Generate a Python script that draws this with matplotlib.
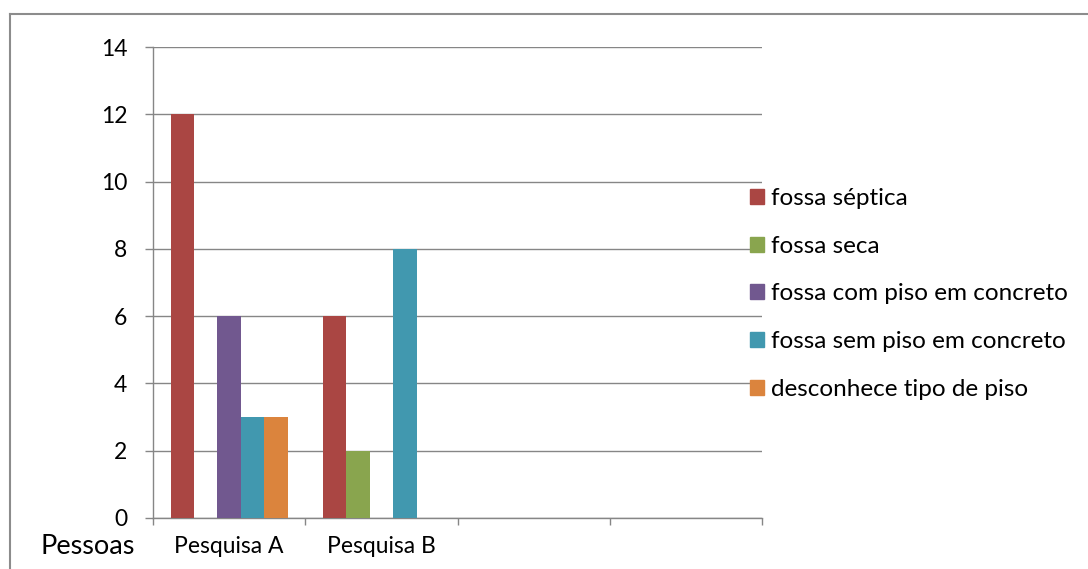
import matplotlib
matplotlib.use("Agg")
import matplotlib.pyplot as plt
from matplotlib.patches import Rectangle
import numpy as np

plt.rcParams['font.family'] = ['Lato', 'DejaVu Sans']

categories = ["Pesquisa A", "Pesquisa B", "", ""]
series_names = ["fossa séptica", "fossa seca", "fossa com piso em concreto",
                "fossa sem piso em concreto", "desconhece tipo de piso"]
fossa_septica = [12, 6, 0, 0]
fossa_seca = [0, 2, 0, 0]
fossa_com_piso = [6, 0, 0, 0]
fossa_sem_piso = [3, 8, 0, 0]
desconhece = [3, 0, 0, 0]
series_values = [fossa_septica, fossa_seca, fossa_com_piso, fossa_sem_piso, desconhece]
colors = ["#AA4643", "#89A54E", "#71588F", "#4198AF", "#DB843D"]
y_ticks = [0, 2, 4, 6, 8, 10, 12, 14]

W, H = 1088, 569
fig = plt.figure(figsize=(W / 100, H / 100), dpi=100)
ax = fig.add_axes([153 / W, (H - 518) / H, (762 - 153) / W, (518 - 47) / H])

grid_c = "#868686"
n = len(series_values)
bw = 1 / (n + 1.5)
x = np.arange(len(categories))
handles = []
for i, (vals, c, name) in enumerate(zip(series_values, colors, series_names)):
    v = np.array(vals, dtype=float)
    mask = v > 0
    ax.bar(x[mask] + (i - (n - 1) / 2) * bw, v[mask], width=bw, color=c,
           zorder=3, linewidth=0)
    handles.append(Rectangle((0, 0), 1, 1, color=c, label=name))

ax.set_xlim(-0.5, len(categories) - 0.5)
ax.set_ylim(0, 14)
ax.set_yticks(y_ticks)
ax.set_yticklabels([str(t) for t in y_ticks], fontsize=16.5)
ax.yaxis.grid(True, color=grid_c, linewidth=1, zorder=0)
ax.set_axisbelow(True)
ax.set_xticks(x)
ax.set_xticklabels(categories, fontsize=16.5)
ax.set_xticks(np.arange(len(categories) + 1) - 0.5, minor=True)
ax.tick_params(axis='x', which='major', length=0, pad=13)
ax.tick_params(axis='x', which='minor', length=5, color=grid_c, width=1, direction='out')
ax.tick_params(axis='y', length=5.5, color=grid_c, width=1, direction='out', pad=13)
for s in ['top', 'right']:
    ax.spines[s].set_visible(False)
for s in ['left', 'bottom']:
    ax.spines[s].set_color(grid_c)
    ax.spines[s].set_linewidth(1)

fig.text(88 / W, 1 - 547 / H, "Pessoas", fontsize=19.5, ha='center', va='center')

leg = fig.legend(handles=handles, loc='upper left',
                 bbox_to_anchor=(750 / W, 1 - 188 / H), frameon=False,
                 fontsize=17.5, handlelength=0.58, handleheight=0.58,
                 handletextpad=0.3, labelspacing=1.1, borderaxespad=0,
                 borderpad=0)

# outer chart border (only top and left edges visible)
fig.add_artist(plt.Line2D([10 / W, 10 / W], [0, 1 - 14 / H], color="#8c8c8c",
                          linewidth=1.5, transform=fig.transFigure))
fig.add_artist(plt.Line2D([10 / W, 1], [1 - 14 / H, 1 - 14 / H], color="#8c8c8c",
                          linewidth=1.5, transform=fig.transFigure))

fig.savefig("out.png", dpi=100)
